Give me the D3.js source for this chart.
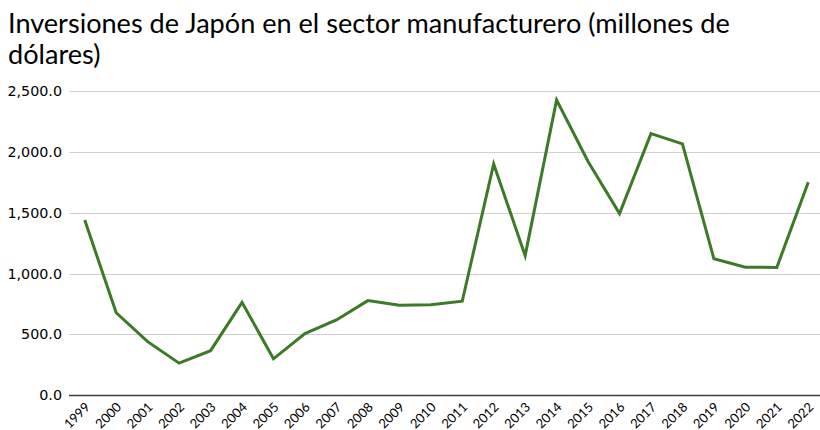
<!DOCTYPE html>
<html>
<head>
<meta charset="utf-8">
<script src="https://cdn.jsdelivr.net/npm/d3@7"></script>
<style>
  html, body { margin: 0; padding: 0; background: #fff; }
  svg { display: block; }
</style>
</head>
<body>
<svg id="chart" width="820" height="430"></svg>
<script>
// Inversión japonesa en manufactura, millones de dólares
const years = ["1999","2000","2001","2002","2003","2004","2005","2006","2007","2008","2009","2010",
               "2011","2012","2013","2014","2015","2016","2017","2018","2019","2020","2021","2022"];
const inversion = [1440, 677, 439, 262, 365, 763, 298, 505, 618, 777, 738, 743,
                   772, 1902, 1147, 2428, 1922, 1493, 2151, 2067, 1121, 1052, 1050, 1752];
const yTicks = [0, 500, 1000, 1500, 2000, 2500];
const titleLines = ["Inversiones de Japón en el sector manufacturero (millones de", "dólares)"];

const svg = d3.select("#chart");
const margin = { left: 69, right: -4, top: 91.3, bottom: 35 };
const W = 820, H = 430;

const x = d3.scaleBand()
  .domain(years)
  .range([margin.left, W - margin.right]);

const y = d3.scaleLinear()
  .domain([0, 2500])
  .range([H - margin.bottom, margin.top]);

// Título
const title = svg.append("g");
titleLines.forEach((t, i) => {
  title.append("text")
    .attr("x", 8)
    .attr("y", 33 + i * 31)
    .attr("font-family", "Lato, 'Open Sans', sans-serif")
    .attr("font-size", 26)
    .attr("fill", "#000")
    .text(t);
});
// ajustar el ancho de la primera línea del título
const first = title.select("text").node();
const wNow = first.getComputedTextLength();
const scaleF = 722 / wNow;
title.selectAll("text").attr("font-size", 26 * scaleF);

// Cuadrícula horizontal
svg.append("g")
  .selectAll("line")
  .data(yTicks.filter(d => d > 0))
  .join("line")
  .attr("x1", margin.left)
  .attr("x2", W)
  .attr("y1", d => Math.round(y(d)) + 0.5)
  .attr("y2", d => Math.round(y(d)) + 0.5)
  .attr("stroke", "#d0d0d0")
  .attr("stroke-width", 1);

// Eje X (línea base)
svg.append("line")
  .attr("x1", margin.left)
  .attr("x2", W)
  .attr("y1", Math.round(y(0)) + 0.5)
  .attr("y2", Math.round(y(0)) + 0.5)
  .attr("stroke", "#404040")
  .attr("stroke-width", 1.3);

// Etiquetas eje Y
const yAxis = d3.axisLeft(y)
  .tickValues(yTicks)
  .tickSize(0)
  .tickPadding(7)
  .tickFormat(d3.format(",.1f"));
svg.append("g")
  .attr("transform", `translate(${margin.left},0)`)
  .call(yAxis)
  .call(g => g.select(".domain").remove())
  .selectAll("text")
  .attr("font-family", "'DejaVu Sans', Verdana, sans-serif")
  .attr("font-size", 14.3)
  .attr("fill", "#000");

// Etiquetas eje X rotadas
const xAxis = d3.axisBottom(x).tickSize(0).tickPadding(0);
svg.append("g")
  .attr("transform", `translate(0,${y(0)})`)
  .call(xAxis)
  .call(g => g.select(".domain").remove())
  .selectAll("text")
  .attr("font-family", "Lato, 'Open Sans', sans-serif")
  .attr("font-size", 13)
  .attr("fill", "#000")
  .attr("text-anchor", "end")
  .attr("dy", 0)
  .attr("y", 0)
  .attr("transform", "translate(6,13) rotate(-45)");

// Serie
const line = d3.line()
  .x((d, i) => x(years[i]) + x.bandwidth() / 2)
  .y(d => y(d));

svg.append("path")
  .datum(inversion)
  .attr("fill", "none")
  .attr("stroke", "#3b7a26")
  .attr("stroke-width", 3)
  .attr("stroke-linejoin", "miter")
  .attr("d", line);
</script>
</body>
</html>
